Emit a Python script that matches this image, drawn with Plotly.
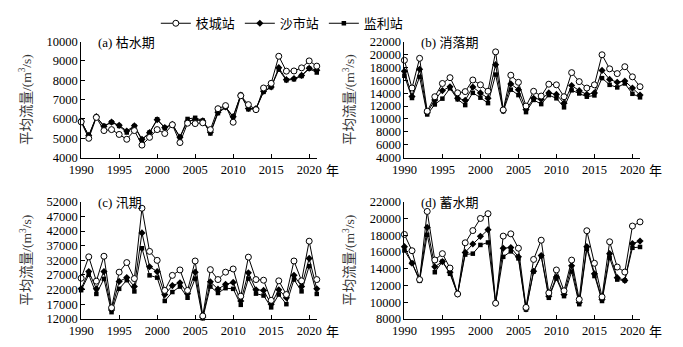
import plotly.graph_objects as go

years = list(range(1990, 2022))

# (a) 枯水期
a_zc = [5850, 5000, 6080, 5400, 5450, 5200, 4950, 5400, 4650, 5050, 5450, 5250, 5700, 4780, 5780, 5760,
        5800, 5450, 6530, 6690, 5830, 7200, 6740, 6480, 7600, 7840, 9240, 8470, 8480, 8640, 9000, 8730]
a_ss = [5880, 5150, 6120, 5620, 5840, 5670, 5380, 5650, 4950, 5290, 5960, 5560, 5720, 5060, 5880, 5960,
        5900, 5310, 6350, 6620, 6120, 7230, 6540, 6530, 7430, 7650, 8650, 8030, 8090, 8250, 8620, 8520]
a_jl = [5900, 5120, 6110, 5640, 5830, 5640, 5300, 5630, 4920, 5300, 5980, 5540, 5720, 5050, 6000, 6060,
        5920, 5250, 6300, 6600, 6100, 7250, 6500, 6520, 7400, 7640, 8550, 8000, 8050, 8220, 8600, 8400]

# (b) 消落期
b_zc = [19100, 14800, 19400, 11200, 13450, 15500, 16400, 14050, 14240, 16040, 15290, 14300, 20400, 11400, 16780, 15680,
        12000, 14290, 13550, 15390, 15290, 13450, 17180, 15790, 14790, 15290, 19950, 17770, 17030, 18100, 16530, 15000]
b_ss = [17400, 13500, 17700, 10950, 12950, 14400, 15000, 13200, 12900, 14940, 14040, 13200, 18420, 11300, 15430, 14540,
        11460, 13200, 13050, 14040, 13800, 12450, 15190, 14390, 13800, 14040, 17530, 16130, 15690, 15880, 14790, 13700]
b_jl = [16700, 13250, 16530, 10700, 12250, 13150, 14750, 13050, 12150, 14050, 13300, 12450, 16880, 11200, 14540, 13700,
        11060, 12950, 12300, 13700, 13200, 11800, 14440, 13950, 13450, 13650, 16330, 15290, 14890, 15500, 13900, 13350]

# (c) 汛期
c_zc = [25900, 33200, 24900, 33400, 15800, 27960, 31240, 25770, 49800, 35060, 32000, 21730, 26870, 28720, 21730, 31780,
        13000, 28830, 25440, 27960, 29050, 19760, 33100, 25440, 25220, 18340, 25000, 20310, 31780, 25000, 38550, 25440]
c_ss = [22300, 28170, 22270, 28170, 15000, 24790, 26100, 23040, 41380, 29820, 28170, 20310, 23370, 24350, 20630, 27960,
        12600, 24680, 22160, 23800, 24460, 18120, 27740, 21950, 21730, 17030, 21950, 19210, 26870, 23040, 32650, 22270]
c_jl = [21800, 27080, 20520, 25660, 14300, 22270, 25220, 21380, 36130, 26870, 26100, 18120, 21180, 23040, 19210, 25770,
        12200, 23040, 20850, 22490, 22270, 16800, 25770, 20630, 19980, 15930, 20310, 17030, 25440, 21400, 30030, 20520]

# (d) 蓄水期
d_zc = [18100, 16150, 12700, 20850, 15040, 15800, 14080, 10980, 17100, 18560, 20010, 20580, 9870, 17900, 18170, 16450,
        9370, 15110, 17410, 11100, 13850, 11360, 15030, 10330, 18540, 14650, 10630, 17220, 14200, 13600, 19100, 19600]
d_ss = [16640, 14650, 12700, 18940, 14230, 14850, 13580, 10980, 15950, 16950, 17870, 18670, 9870, 16450, 16530, 15420,
        9180, 13700, 15570, 10720, 13010, 10910, 14350, 9950, 16640, 13390, 10330, 15800, 12930, 12600, 17000, 17300]
d_jl = [16180, 14700, 12550, 18060, 13580, 14850, 13390, 10980, 15690, 15800, 16840, 17140, 9870, 15420, 16070, 15230,
        9110, 13660, 15500, 10520, 12820, 10720, 13660, 9760, 16370, 13120, 10140, 15300, 12700, 12600, 16500, 16600]

panels = [
    ("(a) 枯水期", a_zc, a_ss, a_jl, [4000, 10000], 4000, 1000),
    ("(b) 消落期", b_zc, b_ss, b_jl, [4000, 22000], 4000, 2000),
    ("(c) 汛期", c_zc, c_ss, c_jl, [12000, 52000], 12000, 5000),
    ("(d) 蓄水期", d_zc, d_ss, d_jl, [8000, 22000], 8000, 2000),
]
series_names = ["枝城站", "沙市站", "监利站"]

W, H = 683, 347
# pixel boxes (x0, x1, ytop, ybottom)
boxes = [(70, 312, 36, 157), (402, 644, 36, 157), (70, 312, 203, 325), (402, 644, 203, 325)]

SERIF = "Liberation Serif, Times New Roman, Noto Sans CJK SC"
fig = go.Figure()

# draw order: squares, diamonds, open circles on top
draw = [(2, 3), (1, 2), (0, 1)]

layout_axes = {}
annotations = []
for i, (label, zc, ss, jl, yr, t0, dt) in enumerate(panels):
    n = i + 1
    xa = "x" if n == 1 else f"x{n}"
    ya = "y" if n == 1 else f"y{n}"
    vals = [zc, ss, jl]
    for si, rank in draw:
        name = series_names[si]
        if si == 0:
            mk = dict(symbol="circle", size=6, color="white", line=dict(width=1, color="black"))
        elif si == 1:
            mk = dict(symbol="diamond", size=5.5, color="black")
        else:
            mk = dict(symbol="square", size=4.5, color="black")
        fig.add_trace(go.Scatter(x=years, y=vals[si], mode="lines+markers", name=name,
                                 line=dict(color="black", width=1), marker=mk,
                                 xaxis=xa, yaxis=ya, showlegend=(n == 1), legendrank=rank,
                                 cliponaxis=False))

    x0, x1, yt, yb = boxes[i]
    xdom = [x0 / W, x1 / W]
    ydom = [1 - yb / H, 1 - yt / H]
    xkey = "xaxis" if n == 1 else f"xaxis{n}"
    ykey = "yaxis" if n == 1 else f"yaxis{n}"
    layout_axes[xkey] = dict(domain=xdom, anchor=ya, range=[1990, 2021], tickmode="linear",
                             tick0=1990, dtick=5, ticks="inside", ticklen=4, tickcolor="black",
                             showline=True, linecolor="black", linewidth=1, showgrid=False,
                             zeroline=False, tickformat="d",
                             tickfont=dict(family=SERIF, size=12.5, color="black"))
    layout_axes[ykey] = dict(domain=ydom, anchor=xa, range=yr, tickmode="linear", tick0=t0, dtick=dt,
                             ticks="inside", ticklen=4, tickcolor="black", showline=True,
                             linecolor="black", linewidth=1, showgrid=False, zeroline=False,
                             tickformat="d",
                             tickfont=dict(family=SERIF, size=12.5, color="black"),
                             title=dict(text="平均流量/(m<sup>3</sup>/s)",
                                        font=dict(family=SERIF, size=13.5, color="#333"),
                                        standoff=11))
    annotations.append(dict(text=label, x=(x0 + 15) / W, y=1 - (yt + 1) / H, xref="paper", yref="paper",
                            xanchor="left", yanchor="middle", showarrow=False,
                            font=dict(family=SERIF, size=13, color="black")))
    annotations.append(dict(text="年", x=(x1 + 16) / W, y=1 - (yb + 13) / H, xref="paper", yref="paper",
                            xanchor="center", yanchor="middle", showarrow=False,
                            font=dict(family=SERIF, size=13, color="black")))

fig.update_layout(
    width=W, height=H, margin=dict(l=0, r=0, t=0, b=0),
    paper_bgcolor="white", plot_bgcolor="white",
    showlegend=True,
    legend=dict(orientation="h", x=0.405, y=1 - 17 / H, xanchor="center", yanchor="middle",
                font=dict(family=SERIF, size=13, color="black"), itemwidth=30,
                bgcolor="rgba(0,0,0,0)", tracegroupgap=0),
    annotations=annotations,
    **layout_axes,
)

fig.write_html("out.html")
